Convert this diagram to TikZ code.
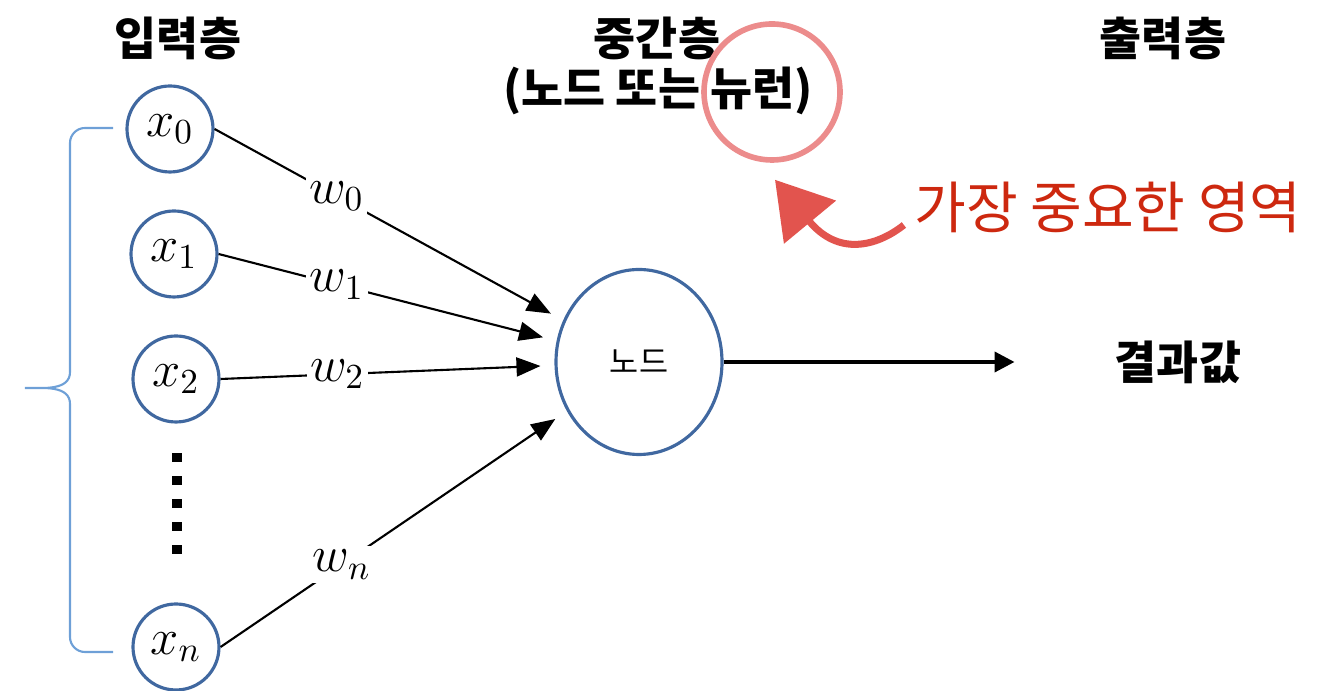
\documentclass[tikz,border=0pt]{standalone}
\usepackage{fontspec}
\usepackage{tikz}
\usetikzlibrary{arrows.meta,calc,positioning,shapes.geometric}
\newfontfamily\krfont{Noto Sans CJK KR}
\definecolor{nodeblue}{RGB}{64,104,160}
\definecolor{braceblue}{RGB}{110,160,215}
\definecolor{ringred}{RGB}{236,140,140}
\definecolor{arrowred}{RGB}{226,84,78}
\definecolor{notered}{RGB}{205,40,15}

\begin{document}
\begin{tikzpicture}[
  inp/.style={circle, draw=nodeblue, line width=0.9pt, minimum size=0.86cm, inner sep=0pt, font=\fontsize{14}{16}\selectfont},
  hidden/.style={ellipse, draw=nodeblue, line width=0.9pt, minimum width=1.66cm, minimum height=1.85cm, font=\krfont\fontsize{9}{11}\selectfont},
  title/.style={font=\krfont\bfseries\fontsize{13}{15}\selectfont},
  wlabel/.style={fill=white, inner sep=1pt, font=\fontsize{14}{16}\selectfont, pos=0.35},
  wire/.style={line width=0.6pt, -{Triangle[length=0.24cm,width=0.19cm]}, shorten >=0.14cm},
  ]
\useasboundingbox (0,0) rectangle (13.22,-6.91);

% layer titles
\node[title] (inl) at (1.78,-0.38) {입력층};
\node[title] (midl) at (6.57,-0.38) {중간층};
\node[title] (midsub) at (6.58,-0.91) {(노드 또는 뉴런)};
\node[title] (outl) at (11.63,-0.38) {출력층};

% input nodes
\node[inp] (x0) at (1.70,-1.29) {$x_0$};
\node[inp] (x1) at (1.74,-2.54) {$x_1$};
\node[inp] (x2) at (1.76,-3.79) {$x_2$};
\node[inp] (xn) at (1.76,-6.47) {$x_n$};
\foreach \k in {0,...,4}
  \fill (1.72,-4.53-0.23*\k) rectangle +(0.10,-0.09);

% brace
\draw[braceblue, line width=0.6pt] (1.13,-1.28) -- (0.85,-1.28) to[out=180,in=90] (0.70,-1.43)
  -- (0.70,-3.72) to[out=-90,in=0] (0.25,-3.88) to[out=0,in=90] (0.70,-4.04)
  -- (0.70,-6.37) to[out=-90,in=180] (0.85,-6.52) -- (1.13,-6.52);

% node and result
\node[hidden] (hid) at (6.39,-3.62) {노드};
\node[title] (res) at (11.78,-3.62) {결과값};

\draw[wire] (x0.east) -- node[wlabel] (w0) {$w_0$} (hid);
\draw[wire] (x1.east) -- node[wlabel] (w1) {$w_1$} (hid);
\draw[wire] (x2.east) -- node[wlabel] (w2) {$w_2$} (hid);
\draw[wire] (xn.east) -- node[wlabel] (wn) {$w_n$} (hid);
\draw[line width=1.1pt, -{Triangle[length=0.2cm,width=0.2cm]}, shorten >=0.88cm] (hid.east) -- (res);

% highlight
\node[circle, draw=ringred, line width=1.6pt, minimum size=1.36cm] (ring) at (7.72,-0.92) {};
\node[font=\krfont\fontsize{16}{19}\selectfont, text=notered] (note) at (11.08,-2.07) {가장 중요한 영역};
\coordinate (ringtip) at ([xshift=0.03cm,yshift=-0.17cm]ring.south);
\draw[arrowred, line width=2pt, -{Triangle[length=0.55cm,width=0.66cm]}]
  ([xshift=0.02cm,yshift=-0.18cm]note.west) .. controls (8.76,-2.47) and (8.38,-2.56) .. (ringtip);
\end{tikzpicture}
\end{document}
